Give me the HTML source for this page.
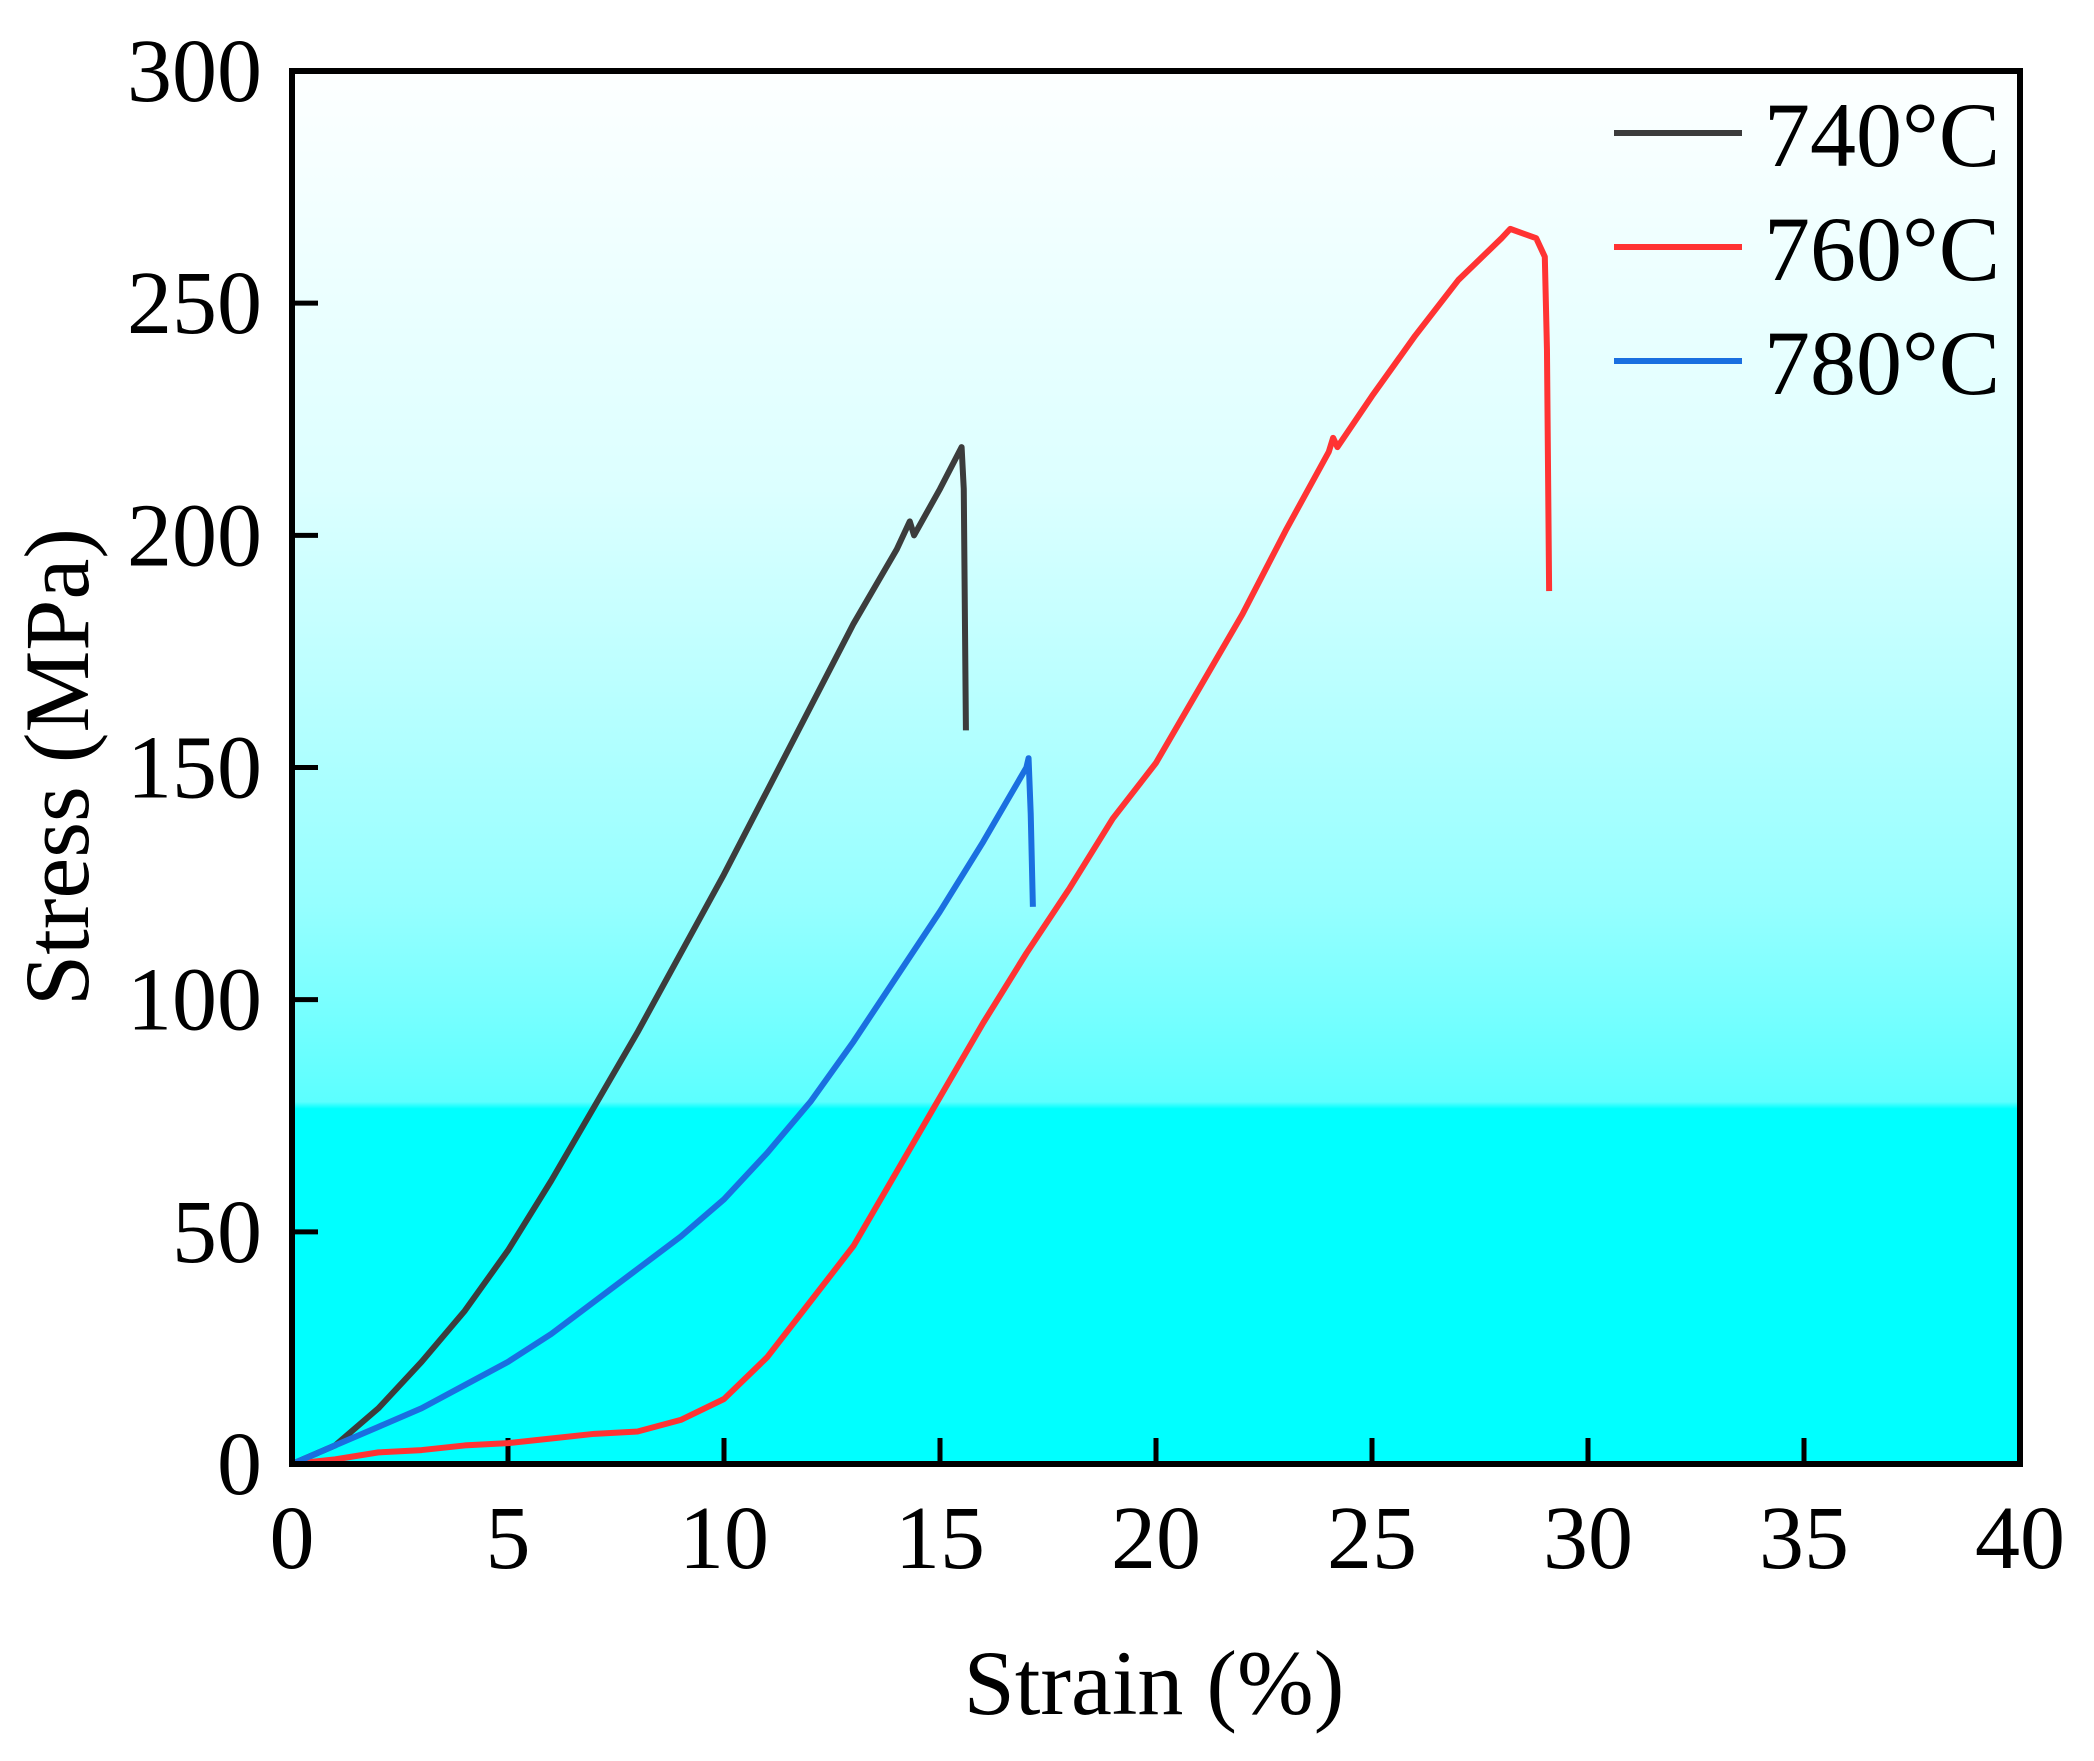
<!DOCTYPE html>
<html><head><meta charset="utf-8"><style>
html,body{margin:0;padding:0;background:#fff;}
svg{display:block;font-family:"Liberation Serif",serif;}
</style></head><body>
<svg id="chart" width="2094" height="1761" viewBox="0 0 2094 1761">
<defs>
<linearGradient id="bg" x1="0" y1="0" x2="0" y2="1">
<stop offset="0" stop-color="#fdffff"/>
<stop offset="0.3" stop-color="#dcffff"/>
<stop offset="0.6" stop-color="#95ffff"/>
<stop offset="0.74" stop-color="#5cffff"/>
<stop offset="0.745" stop-color="#00ffff"/>
<stop offset="1" stop-color="#00ffff"/>
</linearGradient>
</defs>
<rect x="292" y="71" width="1728" height="1393" fill="url(#bg)"/>
<g id="ticks"></g>
<g id="series"></g>
<rect x="292" y="71" width="1728" height="1393" fill="none" stroke="#000" stroke-width="6"/>
<text x="1154" y="1714" font-size="92" text-anchor="middle">Strain (%)</text>
<text transform="translate(88,767) rotate(-90)" font-size="92" text-anchor="middle">Stress (MPa)</text>
<g id="legend"></g>
</svg>
<script>
const xTicks=[0,5,10,15,20,25,30,35,40];
const yTicks=[0,50,100,150,200,250,300];
const s740x=[0,1,2,3,4,5,6,7,8,9,10,11,12,13,13.5,14,14.3,14.4,15,15.5,15.55,15.6];
const s740y=[0,4,12,22,33,46,61,77,93,110,127,145,163,181,189,197,203,200,210,219,210,158];
const s760x=[0,1,2,3,4,5,6,7,8,9,10,11,12,13,14,15,16,17,18,19,20,21,22,23,24,24.1,24.2,25,26,27,28,28.2,28.5,28.8,29,29.05,29.1];
const s760y=[0,1,2.5,3,4,4.5,5.5,6.5,7,9.5,14,23,35,47,63,79,95,110,124,139,151,167,183,201,218,221,219,230,243,255,264,266,265,264,260,240,188];
const s780x=[0,1,2,3,4,5,6,7,8,9,10,11,12,13,14,15,16,17,17.05,17.1,17.15];
const s780y=[0,4,8,12,17,22,28,35,42,49,57,67,78,91,105,119,134,150,152,140,120];
const labels=["740°C","760°C","780°C"];
const colors=["#3c3c3c","#ff3333","#1a6fe0"];
const NS="http://www.w3.org/2000/svg";
const X=v=>292+v*1728/40, Y=v=>1464-v*1393/300;
const tg=document.getElementById('ticks');
xTicks.forEach(t=>{
 const l=document.createElementNS(NS,'line');
 l.setAttribute('x1',X(t));l.setAttribute('x2',X(t));l.setAttribute('y1',1464);l.setAttribute('y2',1438);
 l.setAttribute('stroke','#000');l.setAttribute('stroke-width',5);
 
 
 tg.appendChild(l);
 const tx=document.createElementNS(NS,'text');
 tx.setAttribute('x',X(t));tx.setAttribute('y',1568);tx.setAttribute('font-size',90);tx.setAttribute('text-anchor','middle');
 tx.textContent=t;
 
 
 tg.appendChild(tx);
});
yTicks.forEach(t=>{
 const l=document.createElementNS(NS,'line');
 l.setAttribute('x1',292);l.setAttribute('x2',318);l.setAttribute('y1',Y(t));l.setAttribute('y2',Y(t));
 l.setAttribute('stroke','#000');l.setAttribute('stroke-width',5);
 
 
 tg.appendChild(l);
 const tx=document.createElementNS(NS,'text');
 tx.setAttribute('x',262);tx.setAttribute('y',Y(t)+30);tx.setAttribute('font-size',90);tx.setAttribute('text-anchor','end');
 tx.textContent=t;
 
 
 tg.appendChild(tx);
});
const sg=document.getElementById('series');
[[s740x,s740y],[s760x,s760y],[s780x,s780y]].forEach((s,i)=>{
 const p=document.createElementNS(NS,'polyline');
 p.setAttribute('points',s[0].map((x,j)=>X(x)+','+Y(s[1][j])).join(' '));
 p.setAttribute('fill','none');p.setAttribute('stroke',colors[i]);p.setAttribute('stroke-width',6);p.setAttribute('stroke-linejoin','round');
 
 
 sg.appendChild(p);
});
const lg=document.getElementById('legend');
labels.forEach((lab,i)=>{
 const y=133+i*114;
 const l=document.createElementNS(NS,'line');
 l.setAttribute('x1',1614);l.setAttribute('x2',1742);l.setAttribute('y1',y);l.setAttribute('y2',y);
 l.setAttribute('stroke',colors[i]);l.setAttribute('stroke-width',6);
 
 
 lg.appendChild(l);
 const tx=document.createElementNS(NS,'text');
 tx.setAttribute('x',1764);tx.setAttribute('y',y+33);tx.setAttribute('font-size',92);
 tx.textContent=lab;
 
 
 lg.appendChild(tx);
});
</script>
</body></html>
